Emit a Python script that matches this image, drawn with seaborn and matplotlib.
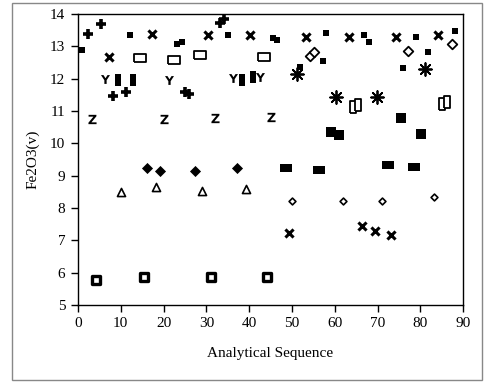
import matplotlib
matplotlib.use("Agg")
import matplotlib.pyplot as plt
import seaborn as sns
from matplotlib.patches import Rectangle

# Fe2O3 readings along the analytical sequence, one array pair per reference material
plus_x = [2.4, 5.3, 8.3, 11.2, 25.0, 26.0, 33.2, 34.2]
plus_y = [13.37, 13.68, 11.46, 11.59, 11.59, 11.52, 13.73, 13.84]

dot_x = [1.0, 12.2, 23.1, 24.2, 35.1, 45.6, 46.5, 52.0, 57.2, 58.0, 66.9, 68.0, 75.9, 78.9, 81.9, 88.0]
dot_y = [12.89, 13.35, 13.06, 13.14, 13.35, 13.25, 13.2, 12.35, 12.55, 13.40, 13.35, 13.14, 12.34, 13.30, 12.83, 13.48]

xs_hi_x = [7.2, 17.2, 30.3, 40.2, 53.2, 63.3, 74.3, 84.2]
xs_hi_y = [12.68, 13.37, 13.35, 13.35, 13.28, 13.30, 13.28, 13.35]

y_x = [6.3, 21.3, 36.3, 42.6]
y_y = [11.99, 11.96, 12.01, 12.04]

tall_x = [9.3, 12.9, 38.3, 41.0]
tall_y = [11.96, 11.96, 11.96, 12.04]

open_rect_x = [14.6, 22.4, 28.5, 43.5]
open_rect_y = [12.63, 12.58, 12.73, 12.66]

z_x = [3.2, 20.2, 32.0, 45.1]
z_y = [10.75, 10.74, 10.79, 10.82]

star_x = [51.1, 60.2, 69.8, 81.1]
star_y = [12.14, 11.42, 11.44, 12.29]

open_sq_x = [64.3, 65.4, 85.1, 86.2]
open_sq_y = [11.13, 11.19, 11.22, 11.28]

odiam_x = [54.2, 55.1, 77.2, 87.3]
odiam_y = [12.70, 12.84, 12.86, 13.07]

sq_mid_x = [59.1, 61.1, 75.4, 80.2]
sq_mid_y = [10.34, 10.26, 10.79, 10.29]

wide_x = [48.5, 56.4, 72.5, 78.5]
wide_y = [9.23, 9.17, 9.33, 9.28]

fdiam_x = [16.2, 19.2, 27.3, 37.1]
fdiam_y = [9.25, 9.14, 9.14, 9.25]

tri_x = [10.0, 18.2, 29.1, 39.3]
tri_y = [8.48, 8.64, 8.54, 8.59]

sdiam_x = [50.1, 62.0, 71.1, 83.1]
sdiam_y = [8.23, 8.23, 8.23, 8.33]

xs_lo_x = [49.2, 66.3, 69.4, 73.1]
xs_lo_y = [7.24, 7.44, 7.29, 7.16]

boxdot_x = [4.2, 15.4, 31.2, 44.2]
boxdot_y = [5.77, 5.87, 5.87, 5.87]

x_ticks = [0, 10, 20, 30, 40, 50, 60, 70, 80, 90]
y_ticks = [5, 6, 7, 8, 9, 10, 11, 12, 13, 14]

sns.set_theme(style="white")
plt.rcParams["font.family"] = ["Liberation Serif", "DejaVu Serif"]

fig = plt.figure(figsize=(4.87, 3.83), dpi=100)
ax = fig.add_axes([0.160, 0.2037, 0.791, 0.7597])

tall_rect = [(-0.55, -1), (0.55, -1), (0.55, 1), (-0.55, 1), (-0.55, -1)]
wide_rect = [(-1, -0.7), (1, -0.7), (1, 0.7), (-1, 0.7), (-1, -0.7)]
flat_rect = [(-1, -0.68), (1, -0.68), (1, 0.68), (-1, 0.68), (-1, -0.68)]

k = "black"
sns.scatterplot(x=plus_x, y=plus_y, ax=ax, marker="+", s=60, color=k, linewidth=2.6)
sns.scatterplot(x=dot_x, y=dot_y, ax=ax, marker="s", s=14, color=k, linewidth=0)
sns.scatterplot(x=xs_hi_x, y=xs_hi_y, ax=ax, marker="x", s=34, color=k, linewidth=2.2)
sns.scatterplot(x=y_x, y=y_y, ax=ax, marker=r"$\mathbf{Y}$", s=42, color=k, linewidth=0)
sns.scatterplot(x=tall_x, y=tall_y, ax=ax, marker=tall_rect, s=68, color=k, linewidth=0)
sns.scatterplot(x=open_rect_x, y=open_rect_y, ax=ax, marker=flat_rect, s=70,
                facecolor="white", edgecolor=k, linewidth=1.3)
sns.scatterplot(x=z_x, y=z_y, ax=ax, marker=r"$\mathbf{Z}$", s=45, color=k, linewidth=0)
sns.scatterplot(x=star_x, y=star_y, ax=ax, marker=(8, 2, 0), s=85, color=k, linewidth=1.3)
sns.scatterplot(x=open_sq_x, y=open_sq_y, ax=ax, marker=tall_rect, s=75,
                facecolor="white", edgecolor=k, linewidth=1.3)
sns.scatterplot(x=odiam_x, y=odiam_y, ax=ax, marker="D", s=24,
                facecolor="white", edgecolor=k, linewidth=1.3)
sns.scatterplot(x=sq_mid_x, y=sq_mid_y, ax=ax, marker="s", s=50, color=k, linewidth=0)
sns.scatterplot(x=wide_x, y=wide_y, ax=ax, marker=wide_rect, s=75, color=k, linewidth=0)
sns.scatterplot(x=fdiam_x, y=fdiam_y, ax=ax, marker="D", s=32, color=k, linewidth=0)
sns.scatterplot(x=tri_x, y=tri_y, ax=ax, marker="^", s=34,
                facecolor="white", edgecolor=k, linewidth=1.2)
sns.scatterplot(x=sdiam_x, y=sdiam_y, ax=ax, marker="D", s=12,
                facecolor="white", edgecolor=k, linewidth=1.2)
sns.scatterplot(x=xs_lo_x, y=xs_lo_y, ax=ax, marker="x", s=34, color=k, linewidth=2.2)
sns.scatterplot(x=boxdot_x, y=boxdot_y, ax=ax, marker="s", s=30,
                facecolor="white", edgecolor=k, linewidth=2.4)

ax.set_xlim(0, 90)
ax.set_ylim(5, 14)
ax.set_xticks(x_ticks)
ax.set_yticks(y_ticks)
ax.tick_params(axis="both", direction="out", length=5, width=1, color=k,
               labelsize=11, labelcolor=k, pad=4, left=True, bottom=True)
for sp in ax.spines.values():
    sp.set_visible(True)
    sp.set_color(k)
    sp.set_linewidth(1.0)
ax.set_xlabel("Analytical Sequence", fontsize=11, color=k, labelpad=12)
ax.set_ylabel("Fe2O3(v)", fontsize=11, color=k, labelpad=8)

fig.patches.append(Rectangle((12 / 487, 3 / 383), 470 / 487, 377 / 383,
                             transform=fig.transFigure, fill=False,
                             edgecolor="#888888", linewidth=1.0))

fig.savefig("out.png", dpi=100)
